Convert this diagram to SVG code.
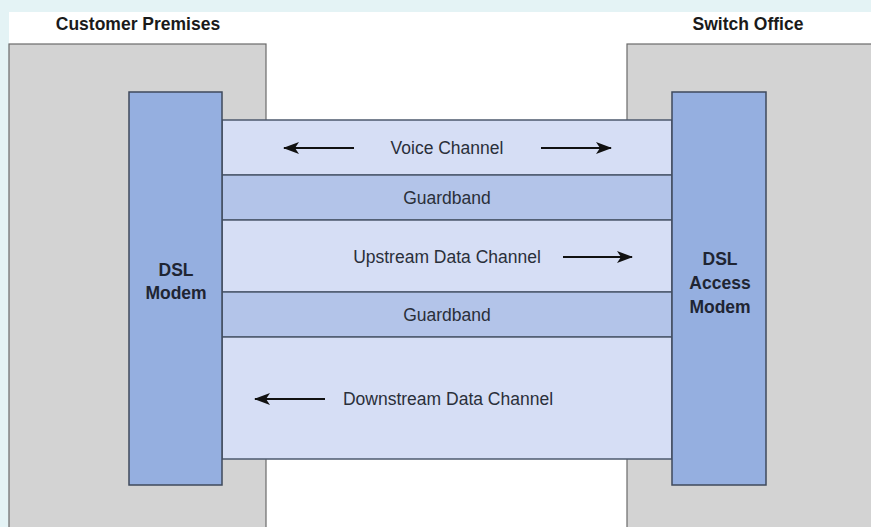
<svg xmlns="http://www.w3.org/2000/svg" width="871" height="527" viewBox="0 0 871 527">
  <defs>
    <marker id="head" viewBox="0 0 16 12" refX="15" refY="6" markerWidth="16" markerHeight="12" markerUnits="userSpaceOnUse" orient="auto">
      <path d="M0,0 L16,6 L0,12 L4,6 Z" fill="#111"/>
    </marker>
    <style>
      .site { fill: #d3d3d3; stroke: #6b6b6b; stroke-width: 1.2; }
      .modem { fill: #95afe0; stroke: #3f4a5c; stroke-width: 1.5; }
      .band { fill: #d6def5; stroke: #4d5a6e; stroke-width: 1.5; }
      .guard { fill: #b3c4e9; stroke: #4d5a6e; stroke-width: 1.5; }
      .title { font-family: "Liberation Sans", Arial, sans-serif; font-size: 17.5px; font-weight: bold; fill: #1a1a1a; text-anchor: middle; }
      .label { font-family: "Liberation Sans", Arial, sans-serif; font-size: 17.5px; fill: #2a2f3a; text-anchor: middle; }
      .mlabel { font-family: "Liberation Sans", Arial, sans-serif; font-size: 17.5px; font-weight: bold; fill: #1f2533; text-anchor: middle; }
      .arrow { stroke: #111; stroke-width: 2.2; fill: none; marker-end: url(#head); }
    </style>
  </defs>

  <!-- page frame -->
  <rect x="0" y="0" width="871" height="527" fill="#e4f3f5"/>
  <rect x="9" y="12" width="862" height="515" fill="#ffffff"/>

  <!-- site areas -->
  <g id="customer-premises">
    <rect class="site" x="9" y="44" width="257" height="490"/>
    <text class="title" x="138" y="30">Customer Premises</text>
  </g>
  <g id="switch-office">
    <rect class="site" x="627" y="44" width="250" height="490"/>
    <text class="title" x="748" y="30">Switch Office</text>
  </g>

  <!-- frequency bands across the line -->
  <g id="voice-channel">
    <rect class="band" x="222" y="120" width="450" height="55"/>
    <text class="label" x="447" y="154">Voice Channel</text>
  </g>
  <g id="guardband-1">
    <rect class="guard" x="222" y="175" width="450" height="45"/>
    <text class="label" x="447" y="204">Guardband</text>
  </g>
  <g id="upstream-channel">
    <rect class="band" x="222" y="220" width="450" height="72"/>
    <text class="label" x="447" y="263">Upstream Data Channel</text>
  </g>
  <g id="guardband-2">
    <rect class="guard" x="222" y="292" width="450" height="45"/>
    <text class="label" x="447" y="321">Guardband</text>
  </g>
  <g id="downstream-channel">
    <rect class="band" x="222" y="337" width="450" height="122"/>
    <text class="label" x="448" y="405">Downstream Data Channel</text>
  </g>

  <!-- modems -->
  <g id="dsl-modem">
    <rect class="modem" x="129" y="92" width="93" height="393"/>
    <text class="mlabel" x="176" y="276">DSL</text>
    <text class="mlabel" x="176" y="299">Modem</text>
  </g>
  <g id="dsl-access-modem">
    <rect class="modem" x="672" y="92" width="94" height="393"/>
    <text class="mlabel" x="720" y="265">DSL</text>
    <text class="mlabel" x="720" y="289">Access</text>
    <text class="mlabel" x="720" y="313">Modem</text>
  </g>

  <!-- direction arrows -->
  <g id="connectors">
    <line class="arrow" x1="354" y1="148" x2="284" y2="148"/>
    <line class="arrow" x1="541" y1="148" x2="611" y2="148"/>
    <line class="arrow" x1="563" y1="257" x2="632" y2="257"/>
    <line class="arrow" x1="325" y1="399" x2="255" y2="399"/>
  </g>
</svg>
